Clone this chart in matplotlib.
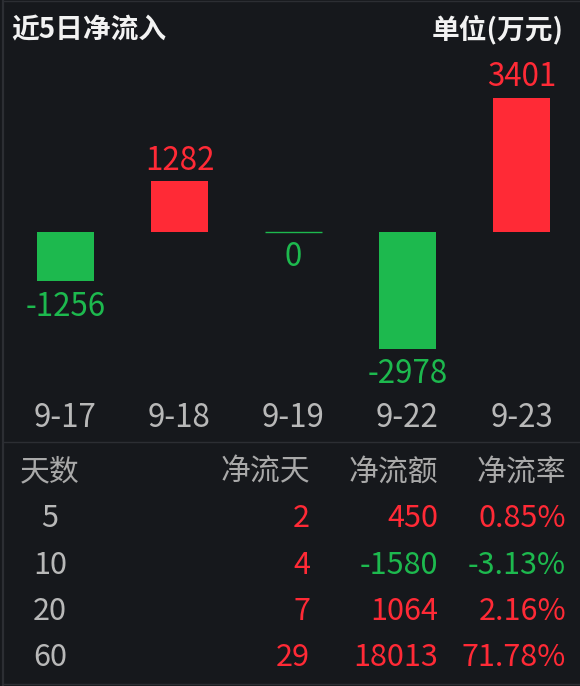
import matplotlib
matplotlib.use("Agg")
import matplotlib.pyplot as plt
from matplotlib.transforms import blended_transform_factory

plt.rcParams['font.family'] = ['Noto Sans CJK SC', 'DejaVu Sans']

# --- data ---
title = '近5日净流入'
unit = '单位(万元)'
dates = ['9-17', '9-18', '9-19', '9-22', '9-23']
net_inflow = [-1256, 1282, 0, -2978, 3401]

table_header = ['天数', '净流天', '净流额', '净流率']
periods = [5, 10, 20, 60]
inflow_days = [2, 4, 7, 29]
inflow_amount = [450, -1580, 1064, 18013]
inflow_rate = [0.85, -3.13, 2.16, 71.78]

# --- style ---
BG = '#16181c'
RED = '#ff2a36'
GREEN = '#1db94e'
LINE = '#2c2e33'
TICK = '#b8b8b8'
HEAD = '#a9a9a9'
WHITE = '#f2f2f2'
FS_CHART = 22.5
FS_TABLE = 22
FS_HEAD = 21.5

W, H = 580, 686
DPI = 100
fig = plt.figure(figsize=(W / DPI, H / DPI), dpi=DPI, facecolor=BG)

# pixel-space overlay for frame, header and table
ov = fig.add_axes([0, 0, 1, 1], facecolor=BG)
ov.set_xlim(0, W)
ov.set_ylim(H, 0)
ov.axis('off')

# bar axes: baseline at y=232 px, 0.0394 px per unit
scale = 0.0394
top_px, bot_px, base_px = 60, 400, 232
ymax = (base_px - top_px) / scale
ymin = -(bot_px - base_px) / scale
ax = fig.add_axes([0, (H - bot_px) / H, 1, (bot_px - top_px) / H])
ax.patch.set_alpha(0)
ax.set_ylim(ymin, ymax)
ax.set_xlim(-65.5 / 114, (W - 65.5) / 114)
ax.axis('off')


def sign_color(v):
    return RED if v > 0 else GREEN


x = list(range(len(dates)))
colors = [sign_color(v) for v in net_inflow]
ax.bar(x, net_inflow, width=0.5, color=colors, linewidth=0)
for i, v in zip(x, net_inflow):
    if v == 0:
        ax.hlines(v, i - 0.25, i + 0.25, color=GREEN, lw=1.0)
    if v > 0:
        ax.annotate(f'{v}', (i, v), xytext=(0, 8.6), textcoords='offset points',
                    ha='center', va='baseline', fontsize=FS_CHART, color=RED)
    else:
        ax.annotate(f'{v}', (i, v), xytext=(0, -24.5), textcoords='offset points',
                    ha='center', va='baseline', fontsize=FS_CHART, color=GREEN)

# date labels under the bars
tr = blended_transform_factory(ax.transData, ov.transData)
for i, d in zip(x, dates):
    ax.text(i, 427, d, transform=tr, ha='center', va='baseline',
            fontsize=FS_CHART, color=TICK)

# frame lines
ov.plot([3, 3], [0, H], color=LINE, lw=1.6, solid_capstyle='butt')
ov.plot([4, W], [1, 1], color=LINE, lw=1.0)
ov.plot([4, W], [441.5, 441.5], color=LINE, lw=1.0)
ov.plot([4, W], [684, 684], color=LINE, lw=1.0)

# header
ov.text(11, 38, title, ha='left', va='baseline', fontsize=20,
        fontweight='bold', color=WHITE)
ov.text(564, 38, unit, ha='right', va='baseline', fontsize=20,
        fontweight='bold', color=WHITE)

# table
col_x = [50, 310, 438, 566]
header_y = 480.5
row_y = [527, 573.5, 620, 666.5]
ov.text(col_x[0], header_y, table_header[0], ha='center', va='baseline',
        fontsize=FS_HEAD, color=HEAD)
for cx, h in zip(col_x[1:], table_header[1:]):
    ov.text(cx, header_y, h, ha='right', va='baseline', fontsize=FS_HEAD, color=HEAD)

for ry, p, d, a, r in zip(row_y, periods, inflow_days, inflow_amount, inflow_rate):
    ov.text(col_x[0], ry, f'{p}', ha='center', va='baseline', fontsize=FS_TABLE, color=TICK)
    ov.text(col_x[1], ry, f'{d}', ha='right', va='baseline', fontsize=FS_TABLE,
            color=sign_color(d))
    ov.text(col_x[2], ry, f'{a}', ha='right', va='baseline', fontsize=FS_TABLE,
            color=sign_color(a))
    ov.text(col_x[3], ry, f'{r:.2f}%', ha='right', va='baseline', fontsize=FS_TABLE,
            color=sign_color(r))

fig.savefig('out.png', dpi=DPI, facecolor=BG)
